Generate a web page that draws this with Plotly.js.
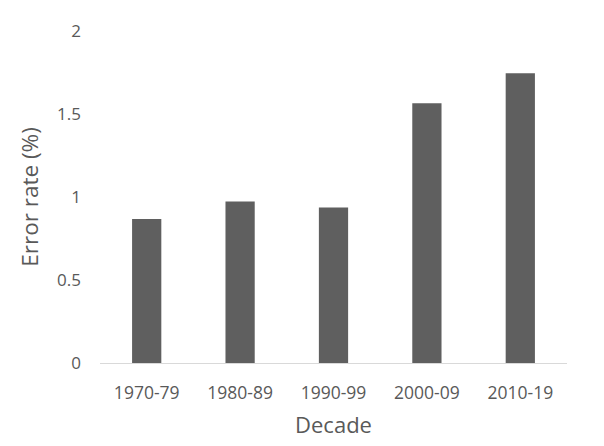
<!DOCTYPE html>
<html>
<head>
<meta charset="utf-8">
<script src="https://cdn.plot.ly/plotly-3.0.1.min.js"></script>
<style>html,body{margin:0;padding:0;background:#fff;}#chart{width:604px;height:446px;}</style>
</head>
<body>
<div id="chart"></div>
<script>
const decades = ["1970-79", "1980-89", "1990-99", "2000-09", "2010-19"];
const errorRate = [0.867, 0.973, 0.937, 1.565, 1.745];
const yTicks = [0, 0.5, 1, 1.5, 2];
const yTickText = ["0", "0.5", "1", "1.5", "2"];

const textColor = "#595959";
const fontFam = "'Open Sans', 'Noto Sans', sans-serif";

Plotly.newPlot("chart", [{
  type: "bar",
  x: decades,
  y: errorRate,
  marker: {color: "#5f5f5f", line: {width: 0}},
  hoverinfo: "none"
}], {
  width: 604, height: 446,
  margin: {l: 100, r: 37, t: 31, b: 83},
  paper_bgcolor: "#fff", plot_bgcolor: "#fff",
  bargap: 0.687,
  showlegend: false,
  font: {family: fontFam, color: textColor},
  xaxis: {
    type: "category",
    showgrid: false, zeroline: false,
    showline: true, linecolor: "#d9d9d9", linewidth: 1,
    ticks: "", tickfont: {size: 17.5, color: textColor, family: fontFam},
    ticklabelstandoff: 14,
    title: {text: "Decade", font: {size: 22, color: textColor, family: fontFam}, standoff: 14}
  },
  yaxis: {
    range: [0, 2], tickvals: yTicks, ticktext: yTickText,
    showgrid: false, zeroline: false, showline: false,
    ticks: "", tickfont: {size: 17, color: textColor, family: fontFam},
    ticklabelstandoff: 18,
    title: {text: "Error rate (%)", font: {size: 22.5, color: textColor, family: fontFam}, standoff: 12}
  }
}, {staticPlot: true});
</script>
</body>
</html>
